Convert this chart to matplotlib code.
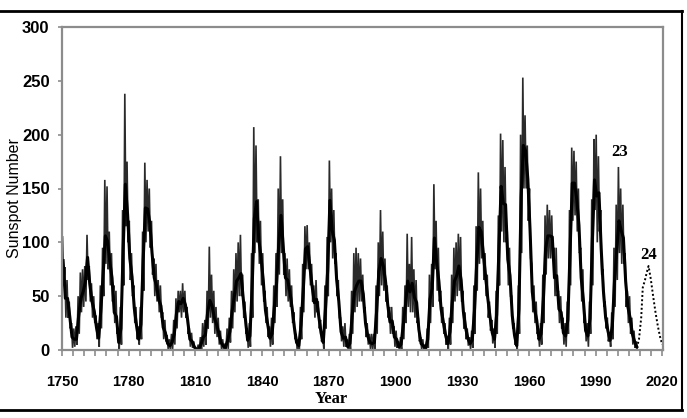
import matplotlib
matplotlib.use("Agg")
import matplotlib.pyplot as plt
from matplotlib.lines import Line2D
from matplotlib import font_manager as fm
import numpy as np

# ---- data (yearly values), 1750..2008 ----
years = list(range(1750, 2009))

mean_vals = [
    83, 48, 48, 31, 12, 10, 10, 32, 48, 54,
    63, 86, 61, 45, 36, 21, 11, 38, 70, 106,
    101, 82, 67, 35, 31, 7, 20, 93, 154, 126,
    85, 68, 39, 23, 10, 24, 83, 132, 131, 118,
    90, 67, 60, 47, 41, 21, 16, 6, 4, 7,
    15, 34, 45, 43, 48, 42, 28, 10, 8, 3,
    0, 1, 5, 12, 14, 35, 46, 41, 30, 24,
    16, 7, 4, 2, 9, 17, 36, 50, 64, 67,
    71, 48, 28, 9, 13, 57, 122, 138, 103, 86,
    65, 37, 24, 11, 15, 40, 62, 99, 125, 96,
    67, 65, 54, 39, 21, 7, 4, 23, 55, 94,
    96, 77, 59, 44, 47, 31, 16, 7, 38, 74,
    139, 111, 102, 66, 45, 17, 11, 12, 3, 6,
    32, 54, 60, 64, 64, 52, 25, 13, 7, 6,
    7, 36, 73, 85, 78, 64, 42, 26, 27, 12,
    10, 3, 5, 24, 42, 64, 54, 62, 49, 44,
    19, 6, 4, 1, 10, 47, 57, 104, 81, 64,
    38, 26, 14, 6, 17, 44, 64, 69, 78, 65,
    36, 21, 11, 6, 9, 36, 80, 114, 110, 89,
    68, 48, 31, 16, 10, 33, 93, 152, 136, 135,
    84, 69, 32, 14, 4, 38, 142, 190, 185, 159,
    112, 54, 38, 28, 10, 15, 47, 94, 106, 106,
    105, 67, 69, 38, 35, 16, 13, 28, 93, 155,
    155, 140, 116, 67, 46, 18, 13, 29, 100, 158,
    143, 146, 94, 55, 30, 18, 9, 22, 64, 93,
    120, 111, 104, 64, 40, 30, 15, 8, 3,
]

high_vals = [
    105, 77, 65, 45, 25, 20, 22, 50, 72, 75,
    78, 107, 78, 62, 50, 32, 25, 60, 95, 158,
    152, 110, 90, 60, 55, 20, 40, 130, 238, 175,
    120, 90, 60, 40, 22, 40, 110, 174, 158, 150,
    120, 85, 80, 65, 60, 35, 28, 14, 10, 15,
    28, 48, 55, 55, 62, 55, 40, 20, 16, 8,
    2, 5, 12, 25, 28, 55, 96, 70, 55, 40,
    30, 18, 10, 6, 20, 30, 55, 75, 90, 100,
    107, 70, 45, 20, 25, 90, 207, 190, 140, 120,
    90, 55, 40, 22, 30, 60, 90, 150, 180, 140,
    90, 85, 75, 60, 35, 15, 10, 40, 80, 115,
    116, 100, 80, 60, 65, 45, 28, 15, 60, 105,
    176, 150, 130, 90, 65, 30, 22, 25, 10, 15,
    55, 90, 95, 90, 85, 70, 40, 25, 15, 15,
    15, 60, 100, 130, 110, 85, 60, 40, 40, 22,
    18, 8, 12, 40, 60, 108, 80, 105, 75, 65,
    30, 12, 10, 5, 20, 70, 80, 154, 120, 95,
    55, 40, 25, 12, 30, 70, 95, 100, 108, 105,
    55, 35, 20, 12, 18, 60, 115, 165, 150, 120,
    90, 70, 45, 28, 20, 55, 125, 201, 195, 170,
    110, 95, 50, 25, 10, 60, 200, 253, 218, 190,
    150, 80, 60, 45, 20, 25, 70, 125, 135, 130,
    125, 95, 95, 55, 50, 30, 25, 45, 130, 188,
    185, 175, 150, 95, 75, 30, 25, 45, 140, 196,
    200, 180, 130, 75, 45, 30, 15, 35, 95, 135,
    170, 150, 135, 90, 55, 50, 30, 18, 8,
]

low_vals = [
    60, 30, 30, 20, 2, 3, 5, 15, 35, 40,
    45, 65, 45, 30, 25, 10, 3, 20, 50, 80,
    75, 60, 45, 25, 15, 1, 5, 60, 115, 100,
    65, 50, 25, 10, 5, 10, 55, 100, 110, 95,
    70, 50, 45, 35, 30, 10, 8, 1, 0, 1,
    5, 20, 35, 30, 35, 30, 15, 3, 2, 0,
    0, 0, 0, 3, 5, 20, 30, 25, 15, 12,
    5, 1, 0, 0, 1, 7, 20, 35, 45, 50,
    50, 30, 15, 2, 3, 30, 90, 100, 80, 60,
    45, 25, 12, 3, 5, 25, 40, 70, 90, 70,
    50, 45, 40, 25, 10, 1, 0, 10, 35, 75,
    75, 60, 45, 30, 35, 20, 8, 1, 20, 50,
    100, 85, 80, 50, 30, 8, 3, 3, 0, 0,
    15, 35, 40, 45, 45, 35, 12, 5, 1, 0,
    1, 15, 50, 60, 55, 45, 30, 15, 15, 3,
    2, 0, 0, 10, 25, 40, 35, 35, 30, 25,
    8, 1, 0, 0, 2, 25, 40, 75, 55, 45,
    25, 15, 5, 1, 5, 25, 45, 50, 55, 45,
    20, 10, 4, 1, 2, 15, 55, 80, 85, 65,
    50, 30, 18, 6, 2, 15, 60, 110, 100, 100,
    60, 50, 20, 5, 0, 15, 90, 150, 150, 120,
    85, 35, 25, 15, 3, 5, 25, 70, 85, 85,
    85, 50, 50, 25, 20, 5, 3, 15, 60, 120,
    125, 110, 90, 45, 25, 8, 3, 15, 60, 130,
    100, 110, 70, 40, 20, 8, 3, 10, 40, 65,
    90, 80, 80, 40, 25, 15, 5, 2, 0,
]

# predicted cycle 24 (dotted)
pred_years = [2008.5, 2009.5, 2010.5, 2011.2, 2012.2, 2013.0, 2013.8,
              2014.8, 2016.0, 2017.0, 2018.0, 2019.0, 2020.0]
pred_vals = [2, 10, 30, 58, 65, 72, 78, 66, 48, 34, 22, 12, 5]

x_tick_years = [1750, 1780, 1810, 1840, 1870, 1900, 1930, 1960, 1990, 2020]
y_ticks = [0, 50, 100, 150, 200, 250, 300]
cycle_labels = [("23", 2000.9, 184), ("24", 2014.0, 88)]

assert len(mean_vals) == len(years) == len(high_vals) == len(low_vals)

# ---- fonts ----
names = {f.name for f in fm.fontManager.ttflist}
narrow = "Liberation Sans Narrow" if "Liberation Sans Narrow" in names else "Liberation Sans"

fig = plt.figure(figsize=(6.87, 4.18), dpi=100)
ax = fig.add_axes([62 / 687, 1 - 350 / 418, 601 / 687, 323 / 418])

# monthly-like scatter: alternate high/low within each year
yr = np.array(years, dtype=float)
zx = np.column_stack([yr + 0.25, yr + 0.75]).ravel()
zy = np.column_stack([high_vals, low_vals]).ravel()
ax.plot(zx, zy, color="#2a2a2a", lw=1.2, solid_joinstyle="miter")
ax.plot(yr + 0.5, mean_vals, color="black", lw=2.2)

ax.plot(pred_years, pred_vals, color="black", lw=1.4, ls=(0, (1, 1.2)))

for txt, xx, yy in cycle_labels:
    ax.text(xx, yy, txt, fontsize=12, fontweight="bold",
            family="Liberation Serif", ha="center", va="center")

ax.set_xlim(1750, 2020.3)
ax.set_ylim(0, 300)

ax.set_xticks(np.arange(1750, 2021, 5), minor=True)
ax.set_xticks(x_tick_years)
ax.set_xticklabels([str(v) for v in x_tick_years], fontsize=10.5,
                   fontweight="bold", family=narrow)
ax.set_yticks(y_ticks)
ax.set_yticklabels([str(v) for v in y_ticks], fontsize=12,
                   fontweight="bold", family=narrow)

spine_col = "#8c8c8c"
for s in ax.spines.values():
    s.set_color(spine_col)
    s.set_linewidth(1.6)
ax.tick_params(axis="x", which="both", direction="out", length=4,
               width=1.2, color=spine_col, pad=14)
ax.tick_params(axis="y", direction="out", length=3, width=1.2,
               color=spine_col, pad=6)

ax.set_ylabel("Sunspot Number", fontsize=11.5, family="Liberation Sans")
ax.yaxis.set_label_coords(-0.066, 0.47)
ax.set_xlabel("Year", fontsize=12, fontweight="bold", family="Liberation Serif")
ax.xaxis.set_label_coords(0.448, -0.128)

# outer frame lines (top, bottom, right)
fig.add_artist(Line2D([0, 682 / 687], [1 - 11 / 418, 1 - 11 / 418],
                      transform=fig.transFigure, color="black", lw=2))
fig.add_artist(Line2D([0, 682 / 687], [1 - 410 / 418, 1 - 410 / 418],
                      transform=fig.transFigure, color="black", lw=2))
fig.add_artist(Line2D([682 / 687, 682 / 687], [1 - 410 / 418, 1 - 11 / 418],
                      transform=fig.transFigure, color="black", lw=1.5))

fig.savefig("out.png", dpi=100)
